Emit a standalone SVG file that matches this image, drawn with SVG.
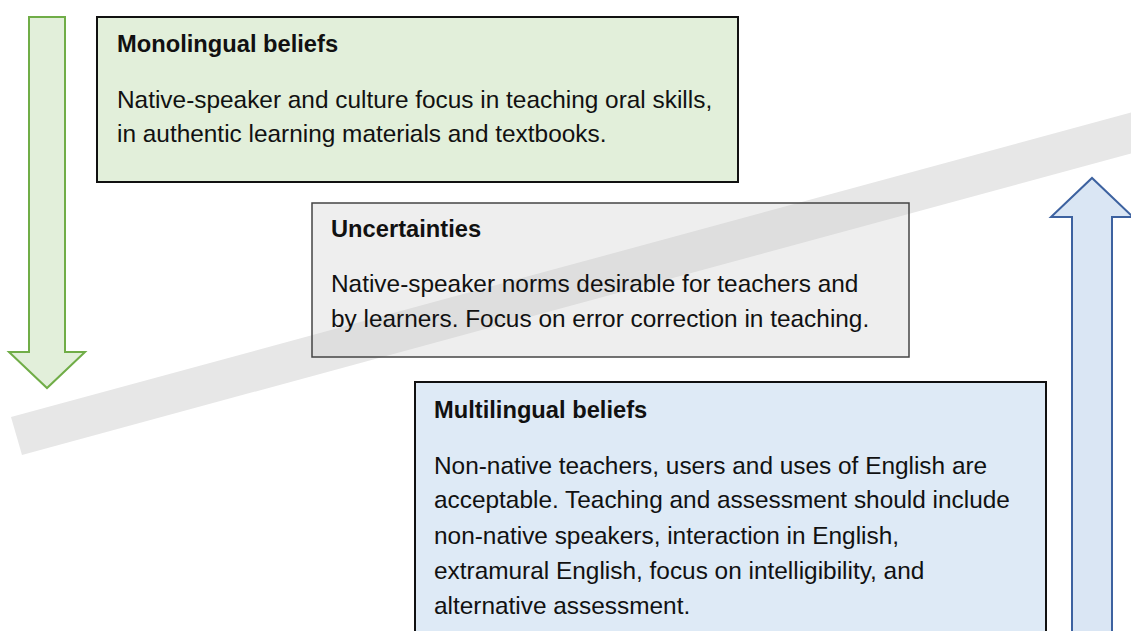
<svg xmlns="http://www.w3.org/2000/svg" width="1131" height="631" viewBox="0 0 1131 631">
<style>
.t{font-family:"Liberation Sans",Arial,sans-serif;font-size:24.4px;fill:#111}
.b{font-weight:bold;font-size:23.7px}
.box{stroke:#111;stroke-width:2}
</style>
<rect x="0" y="0" width="1131" height="631" fill="#ffffff"/>
<g id="band">
<polygon points="11,417 1140,110 1140,151 22,455" fill="#e7e7e7"/>
</g>
<g id="connectors">
<path d="M29,17 L65,17 L65,352 L85,352 L47,388 L9,352 L29,352 Z" fill="#e2efda" stroke="#70ad47" stroke-width="2"/>
<path d="M1072,640 L1072,217 L1051,217 L1092,178 L1133,217 L1112,217 L1112,640 Z" fill="#dae6f4" stroke="#3d62a0" stroke-width="2"/>
</g>
<g id="monolingual">
<rect class="box" x="97" y="17" width="641" height="165" fill="#e2efda"/>
<text class="t b" x="117" y="52">Monolingual beliefs</text>
<text class="t" x="117" y="108">Native-speaker and culture focus in teaching oral skills,</text>
<text class="t" x="117" y="142">in authentic learning materials and textbooks.</text>
</g>
<g id="uncertainties">
<rect x="312" y="203" width="597" height="154" fill="#cacaca" fill-opacity="0.32" stroke="#444" stroke-width="1.5"/>
<text class="t b" x="331" y="237">Uncertainties</text>
<text class="t" x="331" y="292">Native-speaker norms desirable for teachers and</text>
<text class="t" x="331" y="327">by learners. Focus on error correction in teaching.</text>
</g>
<g id="multilingual">
<rect class="box" x="415" y="382" width="631" height="260" fill="#deeaf6"/>
<text class="t b" x="434" y="418">Multilingual beliefs</text>
<text class="t" x="434" y="474">Non-native teachers, users and uses of English are</text>
<text class="t" x="434" y="508">acceptable. Teaching and assessment should include</text>
<text class="t" x="434" y="544">non-native speakers, interaction in English,</text>
<text class="t" x="434" y="579">extramural English, focus on intelligibility, and</text>
<text class="t" x="434" y="614">alternative assessment.</text>
</g>
</svg>
